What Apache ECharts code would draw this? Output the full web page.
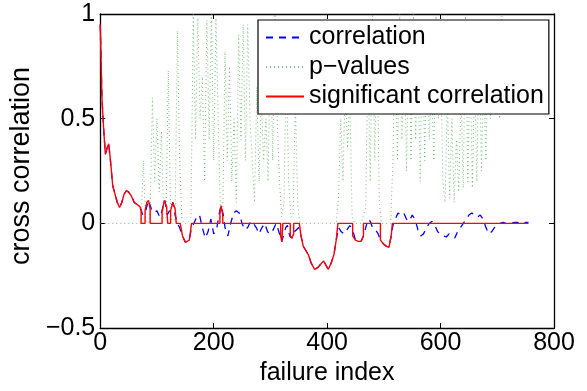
<!DOCTYPE html>
<html><head><meta charset="utf-8">
<script src="https://cdn.jsdelivr.net/npm/echarts@6/dist/echarts.min.js"></script>
<style>html,body{margin:0;padding:0;background:#fff}#c{width:587px;height:391px}</style>
</head><body><div id="c"></div>
<script>
// ---- data ----
const xTickLabels = [0, 200, 400, 600, 800];
const yTickLabels = [-0.5, 0, 0.5, 1];

const corrX = [0,3,6,9,12,15,18,22,26,30,34,38,42,46,50,55,60,65,70,75,80,85,90,95,100,105,110,114,118,122,128,132,136,140,145,150,153,157,161,165,170,175,180,185,190,195,200,205,210,213,217,220,225,230,235,240,245,250,255,260,265,270,275,280,285,290,295,300,305,310,315,320,323,327,330,334,338,342,346,350,354,358,362,367,372,378,384,390,394,398,402,407,412,416,420,425,430,435,440,445,450,455,460,464,468,472,476,480,485,490,494,500,505,509,513,516,520,525,530,535,540,545,550,555,560,565,570,575,580,585,590,595,600,605,610,615,620,625,630,635,640,645,650,655,660,665,670,675,680,685,690,695,700,705,710,715,720,725,730,735,740,745,750,755];
const corrY = [0.95,0.6,0.45,0.33,0.36,0.38,0.3,0.18,0.14,0.1,0.076,0.1,0.14,0.155,0.15,0.13,0.1,0.09,0.08,0.04,0.06,0.11,0.07,0.05,0.06,0.03,0.07,0.11,0.04,0.06,0.1,0.04,0.0,-0.02,-0.06,-0.09,-0.095,-0.08,-0.02,0.0,0.03,0.04,-0.02,-0.07,-0.04,0.02,-0.05,-0.03,0.05,0.085,0.04,-0.02,-0.06,0.0,0.05,0.06,0.05,0.0,-0.03,-0.02,0.01,0.0,-0.02,-0.05,-0.02,0.0,-0.04,-0.05,-0.03,0.0,-0.04,-0.087,-0.08,-0.02,-0.01,-0.06,-0.07,-0.04,-0.03,-0.02,-0.06,-0.11,-0.127,-0.15,-0.19,-0.22,-0.21,-0.19,-0.18,-0.2,-0.22,-0.19,-0.15,-0.08,-0.02,-0.04,-0.05,-0.03,-0.01,-0.03,-0.08,-0.086,-0.085,-0.06,-0.02,0.02,0.01,-0.02,-0.03,-0.05,-0.08,-0.1,-0.11,-0.114,-0.06,-0.01,0.02,0.05,0.04,0.05,0.02,0.01,0.04,0.02,-0.03,-0.06,-0.05,-0.02,0.0,0.01,-0.01,-0.04,-0.05,-0.06,-0.065,-0.05,-0.06,-0.07,-0.04,-0.02,0.0,0.02,0.04,0.05,0.04,0.03,0.04,0.02,-0.02,-0.05,-0.04,-0.02,-0.01,0.0,0.005,0.0,-0.005,0.0,0.005,0.005,0.0,-0.005,0.005,0.005];

const sigX = [0,3,6,9,12,15,18,22,26,30,34,38,42,46,50,55,60,65,70,72,72,79,79,82,85,88,88,109,109,113,117,119,124,124,128,132,134,141,145,150,153,157,161,211,211,213,216,216,318,318,320,322,322,335,335,338,341,341,351,354,358,362,367,372,378,384,390,394,398,402,407,412,416,419,445,445,450,455,460,464,464,494,494,500,505,509,513,515,755];
const sigY = [0.95,0.6,0.45,0.33,0.36,0.38,0.3,0.18,0.14,0.1,0.076,0.1,0.14,0.155,0.15,0.13,0.1,0.09,0.08,0.06,0,0,0.06,0.1,0.11,0.07,0,0,0.06,0.11,0.08,0,0,0.06,0.1,0.07,0,0,-0.06,-0.09,-0.095,-0.08,0,0,0.05,0.085,0.04,0,0,-0.06,-0.087,-0.08,0,0,-0.06,-0.07,-0.05,0,0,-0.06,-0.11,-0.127,-0.15,-0.19,-0.22,-0.21,-0.19,-0.18,-0.2,-0.22,-0.19,-0.15,-0.08,0,0,-0.06,-0.08,-0.086,-0.085,-0.06,0,0,-0.08,-0.1,-0.11,-0.114,-0.06,0,0];

const pX = [0,4,8,12,16,20,24,28,32,36,40,44,48,52,56,60,64,68,72,76,80,84,88,92,96,100,104,108,112,116,120,124,128,132,136,140,144,148,152,156,160,164,168,172,176,180,184,188,192,196,200,204,208,212,216,220,224,228,232,236,240,244,248,252,256,260,264,268,272,276,280,284,288,292,296,300,304,308,312,316,320,324,328,332,336,340,344,348,352,356,360,364,368,372,376,380,384,388,392,396,400,404,408,412,416,420,424,428,432,436,440,444,448,452,456,460,464,468,472,476,480,484,488,492,496,500,504,508,512,516,520,524,528,532,536,540,544,548,552,556,560,564,568,572,576,580,584,588,592,596,600,604,608,612,616,620,624,628,632,636,640,644,648,652,656,660,664,668,672,676,680,684,688,692,696,700,704,708,712,716,720,724,728,732,736,740,744,748,752,756];
const pY = [0,0,0,0,0,0,0,0,0,0,0,0,0,0,0,0,0,0,0,0.3,0.02,0,0.05,0.6,0.2,0.5,0.15,0.44,0.02,0.03,0.73,0.04,0,0.03,0.92,0.3,0.02,0,0,0.01,0.03,1.0,0.4,0.98,0.5,0.7,0.2,0.97,0.4,1.0,0.3,0.98,0.5,0.03,0.04,0.82,0.3,0.75,0.2,0.5,0.1,0.9,0.4,0.95,0.3,0.95,0.5,0.3,0.1,0.65,0.2,0.6,0.3,0.5,0.2,0.9,0.3,1.0,0.5,0.2,0.03,0.1,0.8,0.2,0.03,0.04,0.6,0.1,0,0,0,0,0,0,0,0,0,0,0,0,0,0,0,0,0,0.12,0.5,0.2,0.7,0.36,0.6,0.04,0,0,0,0,0.04,0.07,0.8,0.2,1.0,0.3,0.9,0.1,0,0,0,0,0,0.3,0.9,0.3,1.0,0.4,0.9,0.25,0.95,0.3,1.0,0.4,0.8,0.2,0.9,0.3,0.95,0.4,0.7,0.3,0.99,0.5,0.8,0.2,0.1,0.6,0.12,0.5,0.1,0.4,0.15,0.6,0.17,0.99,0.2,0.8,0.17,0.7,0.2,0.9,0.25,0.7,0.3,0.9,0.5,0.95,0.6,0.9,0.5,0.99,0.6,0.8,0.6,0.9,0.7,0.95,0.6,0.8,0.7,0.9,0.6,0.8];

// ---- chart ----
const zip = (xs, ys) => xs.map((x, i) => [x, ys[i]]);
const font = '"Liberation Sans", Arial, Helvetica, sans-serif';
const FS = 25;
const minus = v => String(v).replace('-', '\u2212');
const chart = echarts.init(document.getElementById('c'), null, {renderer: 'canvas'});
const axisBase = {
  type: 'value',
  axisLine: {show: true, onZero: false, lineStyle: {color: '#000', width: 1.3}},
  axisTick: {show: true, inside: true, length: 5, lineStyle: {color: '#000', width: 1}},
  splitLine: {show: false}
};
chart.setOption({
  animation: false,
  backgroundColor: '#fff',
  grid: {left: 94, right: 33, top: 14, bottom: 61, show: false},
  xAxis: [
    Object.assign({}, axisBase, {
      position: 'bottom', min: xTickLabels[0], max: xTickLabels[xTickLabels.length - 1], interval: 200,
      axisLabel: {fontSize: FS, color: '#000', fontFamily: font, margin: 3},
      name: 'failure index', nameLocation: 'middle', nameGap: 29,
      nameTextStyle: {fontSize: FS, color: '#000', fontFamily: font}
    }),
    Object.assign({}, axisBase, {
      position: 'top', min: xTickLabels[0], max: xTickLabels[xTickLabels.length - 1], interval: 200,
      axisLabel: {show: false}
    })
  ],
  yAxis: [
    Object.assign({}, axisBase, {
      position: 'left', min: yTickLabels[0], max: yTickLabels[yTickLabels.length - 1], interval: 0.5,
      axisLabel: {fontSize: FS, color: '#000', fontFamily: font, margin: 5, formatter: minus},
      name: 'cross correlation', nameLocation: 'middle', nameGap: 57, nameRotate: 90,
      nameTextStyle: {fontSize: 27, color: '#000', fontFamily: font, padding: [0, 0, 0, 10]}
    }),
    Object.assign({}, axisBase, {
      position: 'right', min: yTickLabels[0], max: yTickLabels[yTickLabels.length - 1], interval: 0.5,
      axisLabel: {show: false}
    })
  ],
  legend: {
    orient: 'vertical', left: 258, top: 20,
    padding: [5, 5, 5, 7], itemGap: 4.5, itemWidth: 38, itemHeight: 14,
    backgroundColor: '#fff', borderColor: '#000', borderWidth: 1.2, borderRadius: 0,
    itemStyle: {opacity: 0},
    textStyle: {fontSize: FS, color: '#000', fontFamily: font},
    data: ['correlation', 'p\u2212values', 'significant correlation']
  },
  series: [
    {name: 'correlation', type: 'line', data: zip(corrX, corrY), showSymbol: false, symbol: 'none',
     lineStyle: {color: '#0000ff', width: 1.3, type: [7, 6]}, itemStyle: {color: '#0000ff'}, z: 2},
    {name: 'p\u2212values', type: 'line', data: zip(pX, pY), showSymbol: false, symbol: 'none',
     lineStyle: {color: '#4aa84a', width: 1, type: [1, 3], opacity: 0.75}, itemStyle: {color: '#4aa84a'}, z: 1},
    {name: 'significant correlation', type: 'line', data: zip(sigX, sigY), showSymbol: false, symbol: 'none',
     lineStyle: {color: '#ff0000', width: 1.4}, itemStyle: {color: '#ff0000'}, z: 3}
  ]
});
</script></body></html>
